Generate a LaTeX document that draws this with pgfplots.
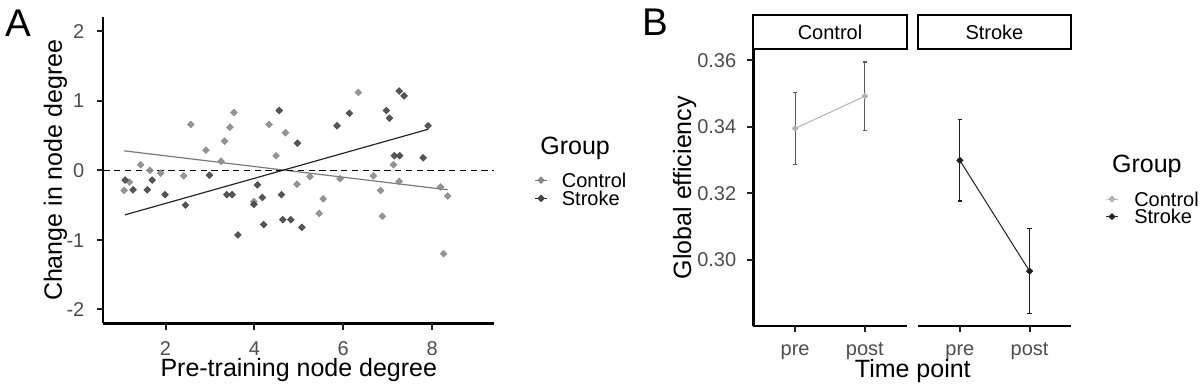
\documentclass[border=0pt]{standalone}
\usepackage{fontspec}
\setmainfont{Liberation Sans}
\usepackage{pgfplots}
\usepackage{pgfplotstable}
\pgfplotsset{compat=1.18}

\definecolor{ctrlpt}{HTML}{8A8A8A}
\definecolor{strkpt}{HTML}{454545}
\definecolor{ctrlln}{HTML}{7A7A7A}
\definecolor{strkln}{HTML}{262626}
\definecolor{tickcol}{HTML}{4D4D4D}
\definecolor{ticklinecol}{HTML}{222222}
\definecolor{bctrl}{HTML}{B3B3B3}
\definecolor{bctrlerr}{HTML}{5A5A5A}
\definecolor{bstrk}{HTML}{1F1F1F}

\pgfplotstableread{
x y
3.54 0.83
2.57 0.66
3.45 0.62
3.33 0.42
2.91 0.29
3.25 0.13
1.44 0.08
1.65 0.00
1.89 -0.04
2.41 -0.08
1.19 -0.17
1.07 -0.29
3.99 -0.45
4.33 0.66
4.49 0.21
6.34 1.12
4.70 0.54
7.13 0.08
5.25 -0.09
5.93 -0.12
6.68 -0.08
4.96 -0.20
7.26 -0.16
8.19 -0.24
6.84 -0.29
8.35 -0.37
5.55 -0.41
5.46 -0.62
6.88 -0.66
8.26 -1.20
}\controldata

\pgfplotstableread{
x y
2.99 -0.07
1.09 -0.14
1.70 -0.14
1.27 -0.28
1.59 -0.28
1.99 -0.35
2.45 -0.50
3.38 -0.35
3.50 -0.35
4.07 -0.21
4.18 -0.39
3.99 -0.49
4.56 0.86
7.26 1.14
7.37 1.07
6.14 0.82
6.97 0.86
7.04 0.75
5.86 0.64
7.91 0.64
4.97 0.39
7.15 0.21
7.27 0.21
7.80 0.18
4.61 -0.35
4.64 -0.71
4.82 -0.71
5.07 -0.82
3.63 -0.93
4.21 -0.78
}\strokedata

\pgfplotsset{
 ggbase/.style={
  scale only axis,
  axis x line*=bottom, axis y line*=left,
  axis line style={line width=1.2pt, black, -},
  xtick pos=bottom, ytick pos=left,
  tick align=outside,
  tick style={draw=ticklinecol, line width=1pt},
  major tick length=3.2pt,
  tick label style={font=\fontsize{10}{12}\selectfont, text=tickcol},
  /pgf/number format/assume math mode=true,
  label style={font=\fontsize{12.5}{15}\selectfont},
  clip=false,
  legend cell align=left,
 },
 legend image code/.code={\draw[mark repeat=2,mark phase=2,#1] plot coordinates {(0pt,0pt) (2.9pt,0pt) (5.8pt,0pt)};},
}
\tikzset{tk/.style={draw=ticklinecol, line width=1pt}}

\begin{document}
\begin{tikzpicture}
\useasboundingbox (0,0) rectangle (600pt,194pt);

% ---------------- Panel A ----------------
\begin{axis}[ggbase,
  at={(51.65pt,32.35pt)}, anchor=south west,
  width=195.5pt, height=153pt,
  xmin=0.6, xmax=9.4, ymin=-2.2, ymax=2.2,
  xtick={2,4,6,8}, ytick={-2,-1,0,1,2},
  xticklabel style={anchor=base, yshift=-12.7pt},
  yticklabel style={anchor=base east, inner sep=0pt, xshift=-6.1pt, yshift=-3.58pt},
  xlabel={Pre-training node degree},
  ylabel={Change in node degree},
  xlabel style={at={(axis description cs:0.5,-0.175)}, anchor=base},
  ylabel style={at={(axis description cs:-0.106,0.5)}, anchor=base},
  legend style={at={(axis description cs:1.1033,0.438)}, anchor=west, draw=none, fill=none,
    inner sep=0pt, outer sep=0pt, row sep=1.85pt, column sep=7.2pt,
    font=\fontsize{10}{12}\selectfont, nodes={inner sep=0pt, text depth=0pt}},
]
\addplot[only marks, mark=square*, mark size=1.15pt,
  mark options={rotate=45, fill=ctrlpt, draw=ctrlpt, fill opacity=0.9, draw opacity=0.9}, forget plot]
  table[x=x,y=y] {\controldata};
\addplot[only marks, mark=square*, mark size=1.15pt,
  mark options={rotate=45, fill=strkpt, draw=strkpt, fill opacity=0.9, draw opacity=0.9}, forget plot]
  table[x=x,y=y] {\strokedata};
\addplot[ctrlln, line width=0.6pt, forget plot] coordinates {(1.07,0.28) (8.35,-0.28)};
\addplot[strkln, line width=0.6pt, forget plot] coordinates {(1.09,-0.64) (7.91,0.59)};
\addplot[black, line width=0.5pt, dash pattern=on 3.2pt off 2.2pt, forget plot] coordinates {(0.6,0) (9.4,0)};
\addlegendimage{ctrlln, line width=0.6pt, mark=square*, mark size=1.05pt, mark options={rotate=45, fill=ctrlpt, draw=ctrlpt}}
\addlegendentry{Control}
\addlegendimage{strkln, line width=0.6pt, mark=square*, mark size=1.05pt, mark options={rotate=45, fill=strkpt, draw=strkpt}}
\addlegendentry{Stroke}
\coordinate (ax1) at (axis cs:2,-2.2);
\coordinate (ax2) at (axis cs:4,-2.2);
\coordinate (ax3) at (axis cs:6,-2.2);
\coordinate (ax4) at (axis cs:8,-2.2);
\coordinate (ay1) at (axis cs:0.6,-2);
\coordinate (ay2) at (axis cs:0.6,-1);
\coordinate (ay3) at (axis cs:0.6,0);
\coordinate (ay4) at (axis cs:0.6,1);
\coordinate (ay5) at (axis cs:0.6,2);
\end{axis}
\foreach \i in {1,2,3,4} {\draw[tk] (ax\i) -- ++(0pt,-3.2pt);}
\foreach \i in {1,2,3,4,5} {\draw[tk] (ay\i) -- ++(-3.2pt,0pt);}
\node[anchor=base west, font=\fontsize{12.5}{15}\selectfont] at (266.65pt,116.85pt) {Group};
\node[anchor=base, font=\fontsize{19.3}{22}\selectfont] at (9.4pt,176pt) {A};

% ---------------- Panel B: Control ----------------
\begin{axis}[ggbase,
  at={(376.65pt,31pt)}, anchor=south west,
  width=76.7pt, height=138.35pt,
  xmin=0.4, xmax=2.6, ymin=0.2801, ymax=0.3633,
  xtick={1,2}, xticklabels={pre,post},
  ytick={0.30,0.32,0.34,0.36},
  y tick label style={/pgf/number format/fixed, /pgf/number format/fixed zerofill, /pgf/number format/precision=2},
  xticklabel style={anchor=base, yshift=-11.65pt},
  yticklabel style={anchor=base east, inner sep=0pt, xshift=-5.15pt, yshift=-3.58pt},
  xlabel={Time point},
  ylabel={Global efficiency},
  xlabel style={at={(axis description cs:1.0398,-0.187)}, anchor=base},
  ylabel style={at={(axis description cs:-0.405,0.5)}, anchor=base},
]
\addplot[bctrl, line width=0.5pt, mark=square*, mark size=0.95pt,
  mark options={rotate=45, fill=bctrl, draw=bctrl}, forget plot,
  error bars/.cd, y dir=both, y explicit,
  error bar style={bctrlerr, line width=0.6pt},
  error mark options={rotate=90, bctrlerr, mark size=1.1pt, line width=0.6pt}]
  coordinates {(1,0.3395) += (0,0.0108) -= (0,0.0109) (2,0.3492) += (0,0.0103) -= (0,0.0102)};
\coordinate (bx1) at (axis cs:1,0.2801);
\coordinate (bx2) at (axis cs:2,0.2801);
\coordinate (by1) at (axis cs:0.4,0.30);
\coordinate (by2) at (axis cs:0.4,0.32);
\coordinate (by3) at (axis cs:0.4,0.34);
\coordinate (by4) at (axis cs:0.4,0.36);
\end{axis}
\foreach \i in {1,2} {\draw[tk] (bx\i) -- ++(0pt,-3.2pt);}
\foreach \i in {1,2,3,4} {\draw[tk] (by\i) -- ++(-3.2pt,0pt);}

% ---------------- Panel B: Stroke ----------------
\begin{axis}[ggbase,
  at={(459pt,31pt)}, anchor=south west,
  width=76.7pt, height=138.35pt,
  axis y line=none,
  xmin=0.4, xmax=2.6, ymin=0.2801, ymax=0.3633,
  xtick={1,2}, xticklabels={pre,post}, ytick=\empty,
  xticklabel style={anchor=base, yshift=-11.65pt},
  legend style={at={(axis description cs:1.2236,0.4272)}, anchor=west, draw=none, fill=none,
    inner sep=0pt, outer sep=0pt, row sep=1.55pt, column sep=8pt,
    font=\fontsize{10}{12}\selectfont, nodes={inner sep=0pt, text depth=0pt}},
]
\addplot[bstrk, line width=0.5pt, mark=square*, mark size=1.05pt,
  mark options={rotate=45, fill=bstrk, draw=bstrk}, forget plot,
  error bars/.cd, y dir=both, y explicit,
  error bar style={bstrk, line width=0.6pt},
  error mark options={rotate=90, bstrk, mark size=1.1pt, line width=0.6pt}]
  coordinates {(1,0.3299) += (0,0.0124) -= (0,0.0122) (2,0.2966) += (0,0.0127) -= (0,0.0127)};
\addlegendimage{bctrl, line width=0.5pt, mark=square*, mark size=1pt, mark options={rotate=45, fill=bctrl, draw=bctrl}}
\addlegendentry{Control}
\addlegendimage{bstrk, line width=0.5pt, mark=square*, mark size=1pt, mark options={rotate=45, fill=bstrk, draw=bstrk}}
\addlegendentry{Stroke}
\coordinate (cx1) at (axis cs:1,0.2801);
\coordinate (cx2) at (axis cs:2,0.2801);
\end{axis}
\foreach \i in {1,2} {\draw[tk] (cx\i) -- ++(0pt,-3.2pt);}
\node[anchor=base west, font=\fontsize{12.5}{15}\selectfont] at (552.5pt,107.65pt) {Group};
\node[anchor=base, font=\fontsize{19.3}{22}\selectfont] at (327.75pt,176.5pt) {B};

% strips
\draw[line width=0.9pt, fill=white] (376.65pt,169.35pt) rectangle (453.35pt,186.5pt);
\node[font=\fontsize{10}{12}\selectfont, anchor=base] at (415pt,174.3pt) {Control};
\draw[line width=0.9pt, fill=white] (459pt,169.35pt) rectangle (535.35pt,186.5pt);
\node[font=\fontsize{10}{12}\selectfont, anchor=base] at (497.2pt,174.3pt) {Stroke};
\end{tikzpicture}
\end{document}
